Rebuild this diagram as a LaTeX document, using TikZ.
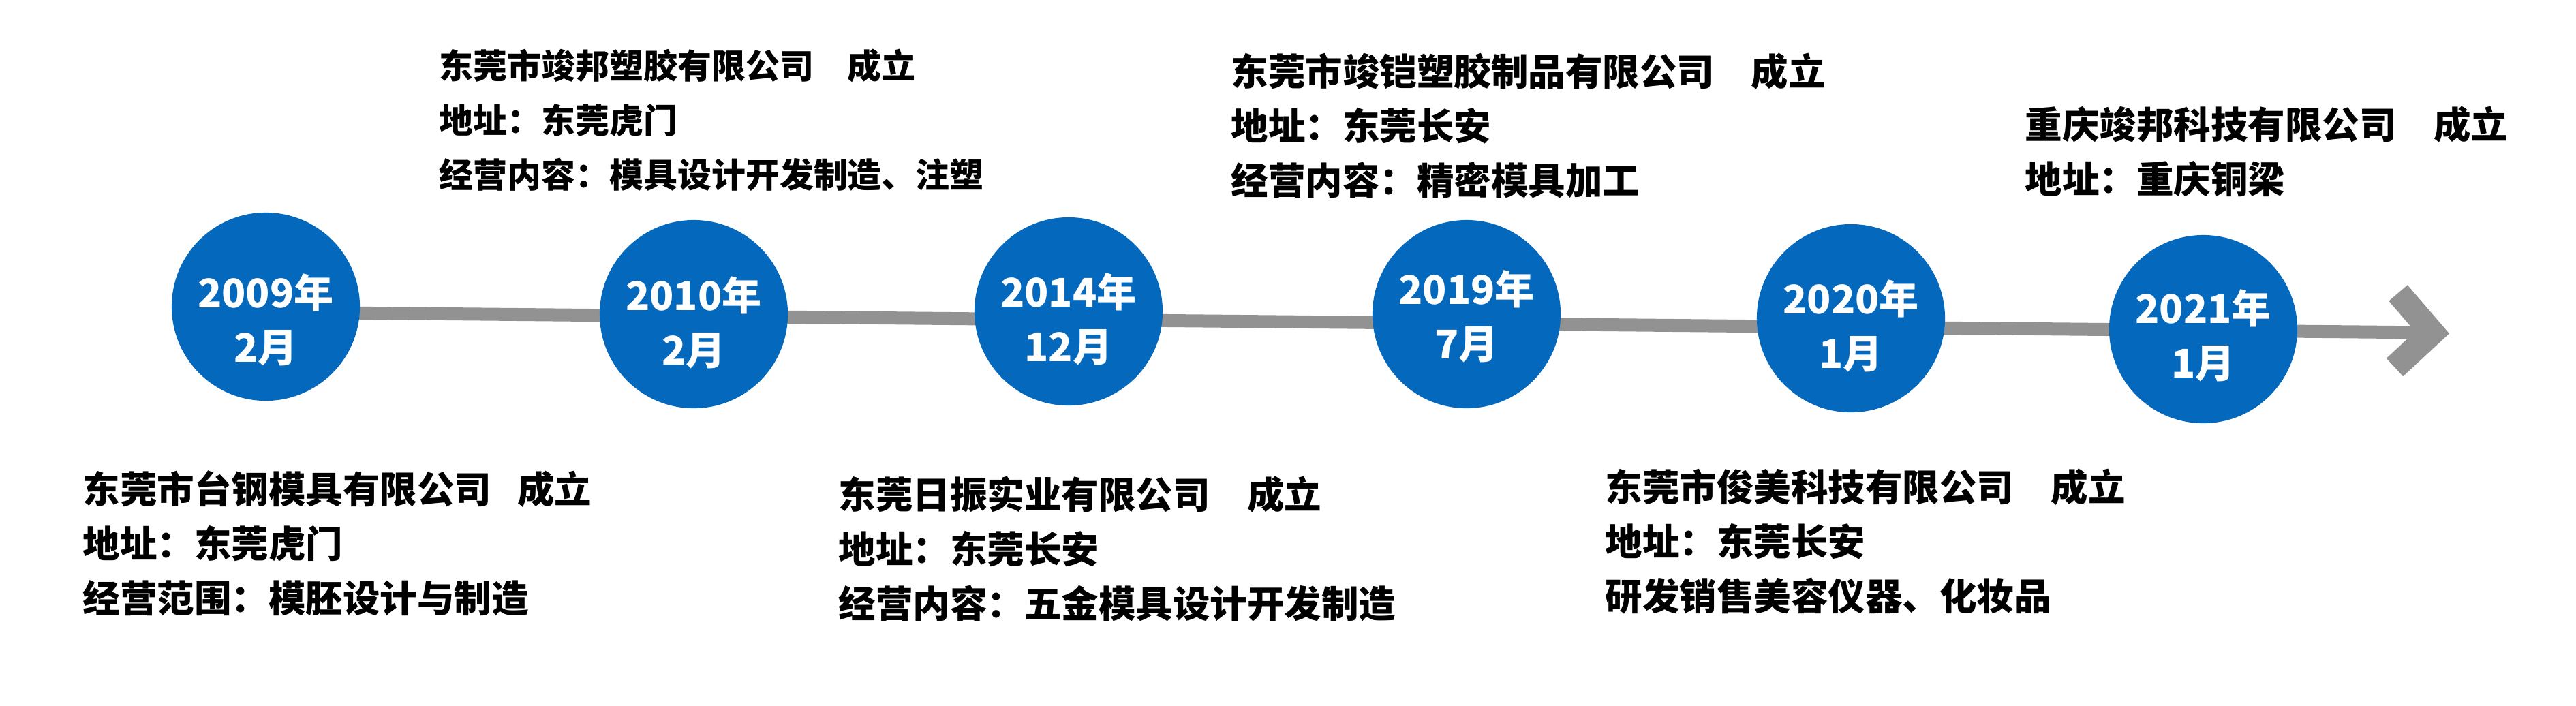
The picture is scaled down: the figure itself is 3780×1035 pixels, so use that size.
\documentclass[tikz,border=0pt]{standalone}
\usepackage{fontspec}
\usepackage{tikz}
\newfontfamily\cjkfont{Noto Sans CJK SC}
\definecolor{dotblue}{RGB}{4,104,189}
\definecolor{axisgrey}{RGB}{146,146,146}
\tikzstyle{year_dot}=[circle, fill=dotblue, minimum size=2.76cm, inner sep=0pt]
\tikzstyle{year_text}=[text=white, align=center, inner sep=0pt, font=\cjkfont\bfseries\fontsize{16.5}{22.8}\selectfont]
\tikzstyle{firm_text}=[anchor=north west, align=left, inner sep=0pt, font=\cjkfont\bfseries\fontsize{15.5}{22.8}\selectfont]
\tikzstyle{firm_small}=[firm_text, font=\cjkfont\bfseries\fontsize{14.2}{22.8}\selectfont]
\tikzstyle{time_axis}=[draw=axisgrey, line width=0.19cm]
\tikzstyle{axis_head}=[draw=axisgrey, line width=0.36cm, miter limit=10]

\begin{document}
\begin{tikzpicture}[x=0.01cm, y=-0.01cm]
\useasboundingbox (0,0) rectangle (3780,1035);
\coordinate (axis_start) at (390,458);
\coordinate (tip) at (3569,488);
\draw[time_axis](axis_start) -- (tip);
\draw[axis_head](3519,430) -- (tip) -- (3514,539);
\node[year_dot] (c2009) at (390,450){};
\node[year_dot] (c2010) at (1018,461){};
\node[year_dot] (c2014) at (1568,457){};
\node[year_dot] (c2019) at (2152,461){};
\node[year_dot] (c2020) at (2716,467){};
\node[year_dot] (c2021) at (3233,483){};
\node[year_text] (t2009) at (390,469){2009年\\2月};
\node[year_text] (t2010) at (1018,473){2010年\\2月};
\node[year_text] (t2014) at (1568,468){2014年\\12月};
\node[year_text] (t2019) at (2152,464){2019年\\7月};
\node[year_text] (t2020) at (2716,478){2020年\\1月};
\node[year_text] (t2021) at (3233,492){2021年\\1月};
\node[firm_text] (f2009) at (121,690){东莞市台钢模具有限公司\hspace{0.7em}成立\\地址：东莞虎门\\经营范围：模胚设计与制造};
\node[firm_small] (f2010) at (644,71){东莞市竣邦塑胶有限公司\quad 成立\\地址：东莞虎门\\经营内容：模具设计开发制造、注塑};
\node[firm_text] (f2014) at (1230,698){东莞日振实业有限公司\quad 成立\\地址：东莞长安\\经营内容：五金模具设计开发制造};
\node[firm_text] (f2019) at (1806,77){东莞市竣铠塑胶制品有限公司\quad 成立\\地址：东莞长安\\经营内容：精密模具加工};
\node[firm_text] (f2020) at (2355,687){东莞市俊美科技有限公司\quad 成立\\地址：东莞长安\\研发销售美容仪器、化妆品};
\node[firm_text] (f2021) at (2971,155){重庆竣邦科技有限公司\quad 成立\\地址：重庆铜梁};
\end{tikzpicture}
\end{document}
